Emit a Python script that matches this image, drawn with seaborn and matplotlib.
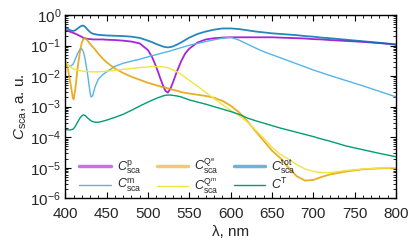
import numpy as np
import pandas as pd
import seaborn as sns
import matplotlib
matplotlib.use("Agg")
import matplotlib.pyplot as plt
from matplotlib.ticker import LogLocator, MultipleLocator, NullFormatter

# wavelength grid, nm
lam = [400, 403, 406, 409, 410, 412, 415, 418, 420, 422, 424, 427, 430, 431, 433, 436,
       440, 445, 450, 460, 470, 480, 490, 500, 505, 510, 515, 518, 521, 524, 527, 530,
       535, 540, 545, 550, 560, 570, 580, 590, 600, 610, 620, 630, 640, 650, 660, 670,
       680, 690, 700, 710, 720, 740, 760, 780, 800]

# log10 of the cross sections
log_p = [-0.49, -0.52, -0.55, -0.58, -0.59, -0.61, -0.65, -0.69, -0.72, -0.75, -0.77, -0.78,
         -0.79, -0.79, -0.80, -0.80, -0.80, -0.80, -0.81, -0.82, -0.84, -0.87, -0.93, -1.15,
         -1.38, -1.70, -2.08, -2.30, -2.48, -2.54, -2.42, -2.22, -1.85, -1.52, -1.26, -1.10,
         -0.90, -0.80, -0.76, -0.74, -0.73, -0.73, -0.73, -0.73, -0.73, -0.73, -0.74, -0.75,
         -0.76, -0.77, -0.79, -0.80, -0.82, -0.85, -0.88, -0.92, -0.97]
log_m = [-1.53, -1.63, -1.68, -1.62, -1.58, -1.45, -1.25, -1.11, -1.11, -1.22, -1.45, -1.95,
         -2.55, -2.68, -2.65, -2.35, -2.10, -1.96, -1.86, -1.68, -1.58, -1.51, -1.45, -1.37,
         -1.33, -1.30, -1.26, -1.24, -1.22, -1.20, -1.18, -1.15, -1.11, -1.07, -1.03, -0.99,
         -0.93, -0.87, -0.81, -0.76, -0.73, -0.82, -0.95, -1.08, -1.20, -1.30, -1.40, -1.50,
         -1.60, -1.70, -1.80, -1.89, -1.98, -2.15, -2.32, -2.50, -2.68]
log_qe = [-1.53, -1.75, -2.20, -2.70, -2.76, -2.45, -1.70, -1.15, -0.90, -0.78, -0.75, -0.84,
          -0.95, -0.98, -1.04, -1.13, -1.27, -1.42, -1.55, -1.75, -1.90, -2.02, -2.12, -2.22,
          -2.26, -2.30, -2.34, -2.36, -2.38, -2.40, -2.42, -2.45, -2.48, -2.52, -2.55, -2.57,
          -2.61, -2.65, -2.71, -2.81, -2.97, -3.18, -3.47, -3.80, -4.12, -4.44, -4.68, -5.00,
          -5.28, -5.42, -5.40, -5.30, -5.22, -5.12, -5.05, -5.02, -5.01]
log_qm = [-1.53, -1.62, -1.70, -1.75, -1.77, -1.79, -1.81, -1.82, -1.83, -1.84, -1.85, -1.85,
          -1.86, -1.86, -1.86, -1.86, -1.86, -1.85, -1.84, -1.81, -1.78, -1.75, -1.72, -1.70,
          -1.69, -1.69, -1.69, -1.70, -1.71, -1.73, -1.76, -1.80, -1.86, -1.94, -2.04, -2.14,
          -2.33, -2.54, -2.74, -2.93, -3.12, -3.29, -3.50, -3.76, -4.04, -4.33, -4.56, -4.72,
          -4.90, -5.04, -5.12, -5.16, -5.16, -5.09, -5.04, -5.01, -5.00]
log_tot = [-0.40, -0.45, -0.50, -0.52, -0.52, -0.50, -0.44, -0.38, -0.35, -0.35, -0.39, -0.48,
           -0.56, -0.58, -0.61, -0.63, -0.65, -0.66, -0.67, -0.68, -0.69, -0.71, -0.75, -0.84,
           -0.89, -0.95, -1.00, -1.03, -1.05, -1.06, -1.05, -1.03, -0.97, -0.90, -0.82, -0.74,
           -0.62, -0.54, -0.48, -0.44, -0.44, -0.46, -0.50, -0.54, -0.57, -0.60, -0.62, -0.64,
           -0.66, -0.69, -0.71, -0.74, -0.76, -0.81, -0.86, -0.91, -0.96]
log_t = [-3.74, -3.76, -3.76, -3.74, -3.72, -3.65, -3.50, -3.36, -3.30, -3.27, -3.29, -3.37,
         -3.44, -3.46, -3.49, -3.51, -3.51, -3.48, -3.44, -3.35, -3.25, -3.12, -2.98, -2.85,
         -2.79, -2.73, -2.68, -2.65, -2.63, -2.62, -2.62, -2.63, -2.65, -2.68, -2.73, -2.78,
         -2.85, -2.92, -3.00, -3.08, -3.16, -3.25, -3.37, -3.46, -3.54, -3.62, -3.70, -3.77,
         -3.84, -3.91, -3.98, -4.06, -4.13, -4.29, -4.41, -4.53, -4.64]

labels = [r"$C^{\rm p}_{\rm sca}$", r"$C^{\rm m}_{\rm sca}$",
          r"$C^{\rm Q^e}_{\rm sca}$", r"$C^{\rm Q^m}_{\rm sca}$",
          r"$C^{\rm tot}_{\rm sca}$", r"$C^{\rm T}$"]
series = [log_p, log_m, log_qe, log_qm, log_tot, log_t]
colors = ["#9400d3", "#56b4e9", "#e69f00", "#f0e442", "#0072b2", "#009e73"]
widths = [1.3, 1.0, 1.3, 1.0, 1.3, 1.0]
alphas = [0.85, 1.0, 0.85, 1.0, 0.85, 1.0]

sns.set_theme(style="ticks")
plt.rcParams["font.family"] = ["Liberation Sans", "DejaVu Sans"]
plt.rcParams["mathtext.fontset"] = "custom"
plt.rcParams["mathtext.rm"] = "Liberation Sans"
plt.rcParams["mathtext.it"] = "Liberation Sans:italic"
plt.rcParams["mathtext.bf"] = "Liberation Sans:bold"

fig = plt.figure(figsize=(4.09, 2.45), dpi=100)
ax = fig.add_axes([0.1597, 0.1906, 0.8085, 0.7482])

for lab, vals, c, w, a in zip(labels, series, colors, widths, alphas):
    sns.lineplot(x=lam, y=10.0 ** np.array(vals), ax=ax, color=c, lw=w, alpha=a,
                 label=lab)

ax.set_yscale("log")
ax.set_xlim(400, 800)
ax.set_ylim(1e-6, 1)
ax.xaxis.set_major_locator(MultipleLocator(50))
ax.xaxis.set_minor_locator(MultipleLocator(10))
ax.yaxis.set_major_locator(LogLocator(base=10, numticks=10))
ax.yaxis.set_minor_locator(LogLocator(base=10, subs=np.arange(2, 10), numticks=10))
ax.yaxis.set_minor_formatter(NullFormatter())
ax.tick_params(which="both", direction="in", top=True, right=True, labelsize=11, color="black")
ax.tick_params(which="major", length=4, width=0.8)
ax.tick_params(which="minor", length=2, width=0.6)
ax.tick_params(axis="x", which="major", pad=6)
ax.tick_params(axis="y", which="major", pad=3)
for s in ax.spines.values():
    s.set_color("black")
    s.set_linewidth(1.0)

ax.set_xlabel(r"λ, nm", fontsize=11, labelpad=3)
ax.set_ylabel(r"$C_{\rm sca}$, a. u.", fontsize=11, labelpad=1)

leg = ax.legend(loc="lower left", bbox_to_anchor=(0.02, -0.03), ncol=3, frameon=False,
                fontsize=9, handlelength=2.5, handletextpad=0.5, columnspacing=1.2,
                labelspacing=0.05, borderaxespad=0.2)
# first-row handles are drawn broad and pale, as in the original
for i, h in enumerate(leg.get_lines()):
    if i % 2 == 0:
        h.set_linewidth(2.5)
        h.set_alpha(0.55)

fig.savefig("out.png", dpi=100)
